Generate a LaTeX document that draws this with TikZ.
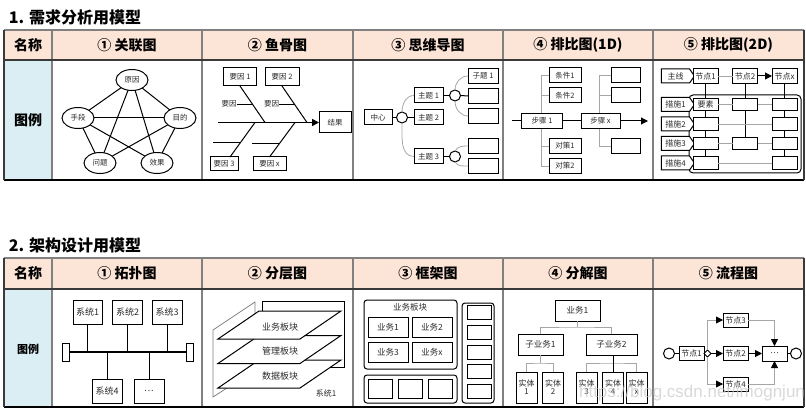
\documentclass[tikz,border=0pt]{standalone}
\usepackage{fontspec}
\setmainfont{Noto Sans CJK SC}
\newfontfamily\wmfont{Liberation Sans}
\usetikzlibrary{shapes.geometric,shapes.symbols,arrows.meta,calc}
\definecolor{hdr}{HTML}{FCE4D6}
\definecolor{leg}{HTML}{DAEEF3}
\definecolor{grid}{HTML}{808080}
\definecolor{dgrid}{HTML}{3A3A3A}
\definecolor{txt}{HTML}{2B2B2B}
\definecolor{lg}{HTML}{A6A6A6}
\definecolor{wm}{HTML}{C8C8C8}
\newcommand{\myfs}[1]{\fontsize{#1}{#1}\selectfont}
\begin{document}
\begin{tikzpicture}[x=1pt,y=-1pt,
  every node/.style={inner sep=0pt,outer sep=0pt},
  bxfont/.style={font=\myfs{7.5}},
  bx/.style 2 args={draw,line width=1,fill=white,minimum width=#1,minimum height=#2,text=txt,align=center,bxfont},
  lbl/.style={text=txt,bxfont},
  ell/.style={ellipse,draw,line width=1,fill=white,minimum width=32,minimum height=21,text=txt,bxfont},
  circ/.style={circle,draw,line width=1,fill=white,minimum size=11},
  sig/.style={signal,signal to=east,signal pointer angle=110,draw,line width=1,fill=white,minimum width=33,minimum height=14,text=txt,bxfont},
  dia/.style={diamond,draw,line width=0.8,fill=white,minimum width=7,minimum height=7},
  ln/.style={line width=1},
  gl/.style={draw=lg,line width=0.8},
  arr/.style={-{Triangle[length=7pt,width=7pt,black]}},
  hd/.style={font=\myfs{14}\bfseries},
  tbl/.style={line width=1.5},
]
\useasboundingbox (0,0) rectangle (806,409);

% ================= TABLE 1 =================
\node[anchor=west,font=\myfs{16}\bfseries] (title1) at (9,17) {1. 需求分析用模型};
\fill[hdr] (4,30) rectangle (804,60);
\fill[leg] (4,60) rectangle (52,180);
\foreach \x in {52,202,353,503,653} \draw[grid,tbl] (\x,30) -- (\x,180);
\draw[grid,tbl] (4,30) -- (804,30);
\draw[dgrid,tbl] (4,60) -- (804,60);
\draw[black,tbl] (4,180) -- (804,180);
\draw[dgrid,tbl] (4,30) -- (4,180);
\draw[dgrid,tbl] (804,30) -- (804,180);
\node[hd] (h10) at (28,45) {名称};
\node[hd] (h11) at (127,45) {① 关联图};
\node[hd] (h12) at (277.5,45) {② 鱼骨图};
\node[hd] (h13) at (428,45) {③ 思维导图};
\node[hd] (h14) at (578,45) {④ 排比图(1D)};
\node[hd] (h15) at (728.5,45) {⑤ 排比图(2D)};
\node[hd] (lg1) at (28,120) {图例};

% --- relation graph
\node[ell] (yy) at (132,80) {原因};
\node[ell] (sd) at (78,118) {手段};
\node[ell] (md) at (180,118) {目的};
\node[ell] (wt) at (100,163) {问题};
\node[ell] (xg) at (157,163) {效果};
\foreach \a/\b in {yy/sd,yy/md,yy/wt,yy/xg,sd/md,sd/wt,sd/xg,md/wt,md/xg} \draw[ln] (\a) -- (\b);

% --- fishbone
\node[bx={33}{18}] (fy1) at (240,77) {要因 1};
\node[bx={34}{18}] (fy2) at (282,77) {要因 2};
\node[bx={32}{21}] (fjg) at (335,122.5) {结果};
\node[bx={28}{14}] (fy3) at (224,164) {要因 3};
\node[bx={33}{14}] (fyx) at (269.5,164) {要因 x};
\coordinate (fsp) at (218,122.5);
\draw[line width=1.6,arr] (fsp) -- (fjg.west);
\coordinate (fk1) at (265,122.5);
\coordinate (fk2) at (307,122.5);
\coordinate (fk3) at (255,122.5);
\coordinate (fk4) at (295,122.5);
\coordinate (fy3n) at ($(fy3.north)+(6,0)$);
\draw[ln] (fy1.south) -- (fk1);
\draw[ln] (fy2.south) -- (fk2);
\draw[ln] (fk3) -- (fy3n);
\draw[ln] (fk4) -- (fyx.north);
\coordinate (fh1) at ($(fy1.south)!0.5!(fk1)$);
\coordinate (fh2) at ($(fy2.south)!0.5!(fk2)$);
\node[lbl] (fs1) at ($(fh1)+(-23.5,0)$) {要因};
\node[lbl] (fs2) at ($(fh2)+(-23,0)$) {要因};
\draw[ln] (fs1.east) -- (fh1);
\draw[ln] (fs2.east) -- (fh2);
\coordinate (fh3) at ($(fk3)!0.57!(fy3n)$);
\coordinate (fh4) at ($(fk4)!0.62!(fyx.north)$);
\coordinate (fe3) at ($(fh3)+(-27.5,0)$);
\coordinate (fe4) at ($(fh4)+(-27,0)$);
\draw[ln] (fe3) -- (fh3);
\draw[ln] (fe4) -- (fh4);

% --- mind map
\node[bx={28}{15}] (mzx) at (378,117.5) {中心};
\node[circ] (mc0) at (402,117.5) {};
\node[bx={29}{15}] (mt1) at (428.5,95.5) {主题 1};
\node[bx={29}{15}] (mt2) at (428.5,117.5) {主题 2};
\node[bx={29}{15}] (mt3) at (428.5,156.5) {主题 3};
\node[circ] (mc1) at (455,95.5) {};
\node[circ] (mc3) at (455,156.5) {};
\node[bx={30}{15}] (ms1) at (483,76) {子题 1};
\node[bx={30}{15}] (ms2) at (483,96) {};
\node[bx={30}{15}] (ms3) at (483,116) {};
\node[bx={30}{15}] (ms4) at (483,146) {};
\node[bx={30}{15}] (ms5) at (483,166) {};
\draw[ln] (mzx) -- (mc0);
\draw[ln] (mc0) -- (mt2);
\draw[ln] (mt1) -- (mc1);
\draw[ln] (mc1.east) -- (ms2.west);
\draw[ln] (mt3) -- (mc3);
\draw[gl] (mc0.north) to[out=90,in=180] (mt1.west);
\draw[gl] (mc0.south) to[out=-90,in=180] (mt3.west);
\draw[gl] (mc1.north) to[out=90,in=180] (ms1.west);
\draw[gl] (mc1.south) to[out=-90,in=180] (ms3.west);
\draw[gl] (mc3.north) to[out=60,in=180] (ms4.west);
\draw[gl] (mc3.south) to[out=-60,in=180] (ms5.west);

% --- 1D
\coordinate (pv1t) at (541,75.5);
\coordinate (pv1b) at (541,166);
\coordinate (pv2t) at (599,75.5);
\coordinate (pv2b) at (599,146);
\draw[gl] (pv1t) -- (pv1b);
\draw[gl] (pv2t) -- (pv2b);
\coordinate (pm0) at (512,121);
\coordinate (pm1) at (648,121);
\node[bx={41}{15}] (pp1) at (542,121) {步骤 1};
\node[bx={39}{15}] (ppx) at (600.5,121) {步骤 x};
\node[bx={32}{15}] (pq1) at (565,75.5) {条件1};
\node[bx={32}{15}] (pq2) at (565,95.5) {条件2};
\node[bx={32}{15}] (pq3) at (565,146) {对策1};
\node[bx={32}{15}] (pq4) at (565,166) {对策2};
\node[bx={29}{15}] (pu1) at (625.5,75.5) {};
\node[bx={29}{15}] (pu2) at (625.5,95.5) {};
\node[bx={29}{15}] (pu3) at (625.5,146) {};
\foreach \n in {pq1,pq2,pq3,pq4} \draw[gl] (\n.west) -- (\n.west -| pv1t);
\foreach \n in {pu1,pu2,pu3} \draw[gl] (\n.west) -- (\n.west -| pv2t);
\draw[ln] (pm0) -- (pp1.west);
\draw[ln] (pp1) -- (ppx);
\draw[ln,arr] (ppx.east) -- (pm1);

% --- 2D
\begin{scope}[bxfont/.style={font=\myfs{8}}]
\node[draw,line width=1,rounded corners=4,minimum width=112,minimum height=78] (qrr) at (745,134) {};
\node[sig] (qzx) at (675.5,76) {主线};
\node[bx={25}{15}] (qn1) at (705.5,76) {节点1};
\node[bx={25}{15}] (qn2) at (745,76) {节点2};
\node[bx={25}{15}] (qn3) at (784.5,76) {节点x};
\node[sig] (qcs1) at (675.5,104.5) {措施1};
\node[sig] (qcs2) at (675.5,124) {措施2};
\node[sig] (qcs3) at (675.5,143.5) {措施3};
\node[sig] (qcs4) at (675.5,163) {措施4};
\node[bx={25}{12.5}] (qa1) at (705.5,104.5) {要素};
\node[bx={25}{12.5}] (qa2) at (705.5,124) {};
\node[bx={25}{12.5}] (qa3) at (705.5,143.5) {};
\node[bx={25}{12.5}] (qa4) at (705.5,163) {};
\node[bx={25}{12.5}] (qb1) at (745,104.5) {};
\node[bx={25}{12.5}] (qb3) at (745,143.5) {};
\node[bx={25}{12.5}] (qc1) at (784.5,104.5) {};
\node[bx={25}{12.5}] (qc2) at (784.5,124) {};
\node[bx={25}{12.5}] (qc3) at (784.5,143.5) {};
\node[bx={25}{12.5}] (qc4) at (784.5,163) {};
\draw[gl] (qn1) -- (qn2);
\draw[ln,arr] (qn2) -- (qn3);
\foreach \a/\b in {qn1/qa1,qa1/qa2,qa2/qa3,qa3/qa4,qn2/qb1,qb1/qb3,qn3/qc1,qc1/qc2,qc2/qc3,qc3/qc4} \draw[ln] (\a) -- (\b);
\foreach \a/\b in {qa1/qb1,qb1/qc1,qa2/qc2,qa3/qb3,qb3/qc3,qa4/qc4} \draw[gl] (\a) -- (\b);
\end{scope}

% ================= TABLE 2 =================
\node[anchor=west,font=\myfs{16}\bfseries] (title2) at (9,245) {2. 架构设计用模型};
\fill[hdr] (4,258) rectangle (804,289);
\fill[leg] (4,289) rectangle (52,407);
\foreach \x in {52,202,353,503,653} \draw[grid,tbl] (\x,258) -- (\x,407);
\draw[grid,tbl] (4,258) -- (804,258);
\draw[dgrid,tbl] (4,289) -- (804,289);
\draw[black,tbl] (4,407) -- (804,407);
\draw[dgrid,tbl] (4,258) -- (4,407);
\draw[dgrid,tbl] (804,258) -- (804,407);
\node[hd] (h20) at (28,273.5) {名称};
\node[hd] (h21) at (127,273.5) {① 拓扑图};
\node[hd] (h22) at (277.5,273.5) {② 分层图};
\node[hd] (h23) at (428,273.5) {③ 框架图};
\node[hd] (h24) at (578,273.5) {④ 分解图};
\node[hd] (h25) at (728.5,273.5) {⑤ 流程图};
\node[font=\myfs{11}\bfseries] (lg2) at (28,349) {图例};

% --- topology
\begin{scope}[bxfont/.style={font=\myfs{9}}]
\node[bx={29}{24}] (tx1) at (87.5,312) {系统1};
\node[bx={30}{24}] (tx2) at (127.5,312) {系统2};
\node[bx={30}{24}] (tx3) at (167,312) {系统3};
\node[draw,line width=1,minimum width=6.5,minimum height=18] (te1) at (66,352) {};
\node[draw,line width=1,minimum width=6.5,minimum height=18] (te2) at (190,352) {};
\draw[line width=2.5] (te1.east) -- (te2.west);
\foreach \n in {tx1,tx2,tx3} \draw[ln] (\n.south) -- (\n.south |- te1.center);
\node[bx={30}{24}] (tx4) at (107,391) {系统4};
\node[bx={30}{24}] (tx5) at (149,391) {…};
\foreach \n in {tx4,tx5} \draw[ln] (\n.north) -- (\n.north |- te1.center);
\end{scope}

% --- layers
\begin{scope}[bxfont/.style={font=\myfs{9}}]
\draw[grid,line width=0.8] (213,330) -- (255,302) -- (255,370) -- (213,397) -- cycle;
\draw[ln] (262,301) rectangle (344,367);
\foreach \d in {49,24.5,0} \filldraw[ln,fill=white] (259,311+\d) -- (341,311+\d) -- (300,339+\d) -- (218,339+\d) -- cycle;
\node[lbl] (ll1) at (280,327.5) {业务板块};
\node[lbl] (ll2) at (280,351.5) {管理板块};
\node[lbl] (ll3) at (280,376) {数据板块};
\node[lbl,font=\myfs{8}] (ll4) at (326,393) {系统1};
\end{scope}

% --- framework
\begin{scope}[bxfont/.style={font=\myfs{8.5}}]
\draw[ln,rounded corners=3] (364,300) rectangle (457,369);
\node[lbl] (kyw) at (410,307.5) {业务板块};
\node[bx={40}{20}] (kw1) at (388,327) {业务1};
\node[bx={40}{20}] (kw2) at (432,327) {业务2};
\node[bx={40}{20}] (kw3) at (388,352.5) {业务3};
\node[bx={40}{20}] (kw4) at (432,352.5) {业务x};
\draw[ln,rounded corners=3] (364,375) rectangle (457,403);
\node[bx={24}{19}] (kb1) at (380,388.5) {};
\node[bx={24}{19}] (kb2) at (410,388.5) {};
\node[bx={24}{19}] (kb3) at (440,388.5) {};
\draw[ln,rounded corners=3] (462,303) rectangle (494,403);
\node[bx={24}{14}] (kr1) at (479,312.5) {};
\node[bx={24}{14}] (kr2) at (479,332) {};
\node[bx={24}{14}] (kr3) at (479,352) {};
\node[bx={24}{14}] (kr4) at (479,371.5) {};
\node[bx={24}{14}] (kr5) at (479,391) {};
\end{scope}

% --- decomposition
\begin{scope}[bxfont/.style={font=\myfs{8.5}}]
\node[bx={45}{21}] (dyw) at (577.5,310.5) {业务1};
\node[bx={45}{21}] (dz1) at (540.5,344.5) {子业务1};
\node[bx={51}{21}] (dz2) at (611.5,344.5) {子业务2};
\coordinate (dj0) at (577.5,327);
\draw[gl] (dyw.south) -- (dj0);
\draw[gl] (dz1.north) |- (dj0) -| (dz2.north);
\node[bx={21}{31},font=\myfs{8}] (de1) at (526.5,387.5) {实体\\1};
\node[bx={21}{31},font=\myfs{8}] (de2) at (553,387.5) {实体\\2};
\node[bx={21}{31},font=\myfs{8}] (de3) at (586.5,387.5) {实体\\3};
\node[bx={21}{31},font=\myfs{8}] (de4) at (613,387.5) {实体\\4};
\node[bx={21}{31},font=\myfs{8}] (de5) at (636.5,387.5) {实体\\x};
\coordinate (dj1) at (540.5,363);
\draw[gl] (dz1.south) -- (dj1);
\draw[gl] (de1.north) |- (dj1) -| (de2.north);
\coordinate (dj2) at (613,363);
\draw[gl] (de3.north) |- (dj2) -| (de5.north);
\draw[ln] (dz2.south -| de4.north) -- (de4.north);
\end{scope}

% --- flow chart
\begin{scope}[bxfont/.style={font=\myfs{8}}]
\node[circ] (gst) at (669,353.5) {};
\node[bx={25}{14}] (gf1) at (691.5,353.5) {节点1};
\node[dia] (ggw) at (707.5,353.5) {};
\node[bx={25}{14}] (gf3) at (735.5,320) {节点3};
\node[bx={25}{14}] (gf2) at (735.5,353.5) {节点2};
\node[bx={25}{14}] (gf4) at (735.5,384) {节点4};
\node[bx={25}{15}] (gfe) at (774.5,353.5) {…};
\node[circ] (gen) at (796,353.5) {};
\draw[ln] (gst) -- (gf1);
\draw[ln] (gf1) -- (ggw);
\draw[ln,arr] (ggw) -- (gf2);
\draw[ln,arr] (gf2) -- (gfe);
\draw[ln] (gfe) -- (gen);
\draw[gl,arr] (ggw.north) |- (gf3.west);
\draw[gl,arr] (ggw.south) |- (gf4.west);
\draw[gl,arr] (gf3.east) -| (gfe.north);
\draw[gl,arr] (gf4.east) -| (gfe.south);
\end{scope}

% watermark
\node[text=wm,opacity=0.7,font=\wmfont\myfs{17}] (wmk) at (692,393) {https://blog.csdn.net/imognjun};
\end{tikzpicture}
\end{document}
